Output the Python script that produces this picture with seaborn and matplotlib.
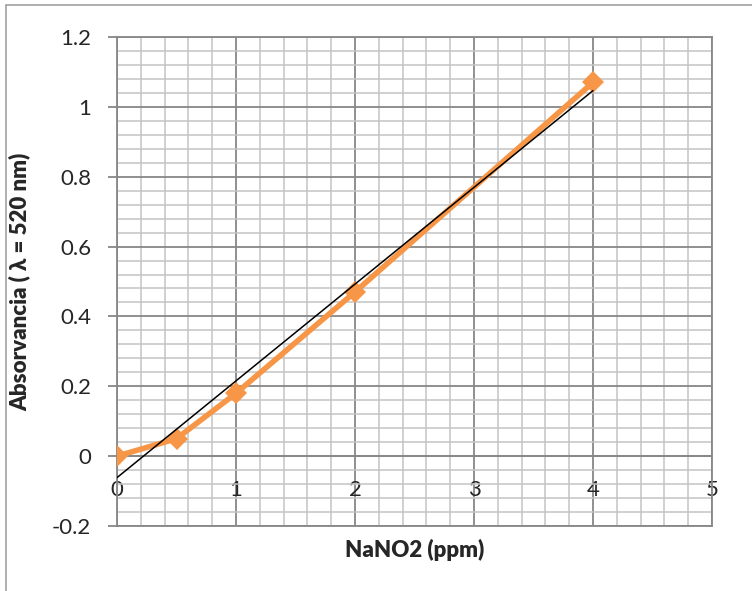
import numpy as np
import pandas as pd
import matplotlib
matplotlib.use('Agg')
import matplotlib.pyplot as plt
from matplotlib.ticker import MultipleLocator
from matplotlib.lines import Line2D
import seaborn as sns

# calibration data
conc = [0, 0.5, 1, 2, 4]            # NaNO2 (ppm)
absorb = [0.0, 0.05, 0.18, 0.47, 1.07]
x_ticks = [0, 1, 2, 3, 4, 5]
y_ticks = [-0.2, 0, 0.2, 0.4, 0.6, 0.8, 1, 1.2]
y_tick_labels = ['-0.2', '0', '0.2', '0.4', '0.6', '0.8', '1', '1.2']

df = pd.DataFrame({'conc': conc, 'abs': absorb})

sns.set_style('white')
plt.rcParams['font.family'] = ['Lato', 'DejaVu Sans']

major_c = '#878787'
minor_c = '#c3c3c3'

fig = plt.figure(figsize=(7.52, 5.91), dpi=100)
ax = fig.add_axes([117 / 752, 65 / 591, 595 / 752, 489 / 591])

sns.lineplot(data=df, x='conc', y='abs', ax=ax, color='#F79646', lw=4,
             marker='D', markersize=11.5, markeredgewidth=0, zorder=4)
sns.regplot(data=df, x='conc', y='abs', ax=ax, scatter=False, ci=None,
            truncate=True, color='black', line_kws={'lw': 1.1, 'zorder': 5})

ax.set_xlim(0, 5)
ax.set_ylim(-0.2, 1.2)
ax.set_xticks(x_ticks)
ax.set_xticklabels([str(t) for t in x_ticks])
ax.set_yticks(y_ticks)
ax.set_yticklabels(y_tick_labels)
ax.xaxis.set_minor_locator(MultipleLocator(0.2))
ax.yaxis.set_minor_locator(MultipleLocator(0.04))

ax.grid(which='minor', color=minor_c, lw=1.1)
ax.grid(which='major', color=major_c, lw=1.3)
ax.set_axisbelow(True)

for s in ['top', 'left', 'right', 'bottom']:
    ax.spines[s].set_color(major_c)
    ax.spines[s].set_linewidth(1.3)
ax.spines['bottom'].set_position(('data', 0))
ax.axhline(-0.2, color=major_c, lw=1.3, clip_on=False, zorder=1)

ax.tick_params(axis='x', which='both', length=0, pad=17, labelsize=16)
ax.tick_params(axis='y', which='major', length=6.5, width=1.3, color=major_c,
               pad=12, labelsize=16, left=True)
ax.tick_params(axis='y', which='minor', length=0)

ax.set_xlabel('NaNO2 (ppm)', fontsize=16, fontweight='heavy')
ax.set_ylabel('Absorvancia ( λ = 520 nm)', fontsize=16, fontweight='heavy')
ax.xaxis.set_label_coords(0.5, -0.027)
ax.yaxis.set_label_coords(-0.145, 0.5)

# chart area frame (only top and left edges visible in the crop)
fig.add_artist(Line2D([6 / 752, 6 / 752], [0, 1 - 5 / 591], color='#9a9a9a', lw=1.1))
fig.add_artist(Line2D([6 / 752, 1], [1 - 5 / 591, 1 - 5 / 591], color='#9a9a9a', lw=1.1))

fig.savefig('out.png', dpi=100)
